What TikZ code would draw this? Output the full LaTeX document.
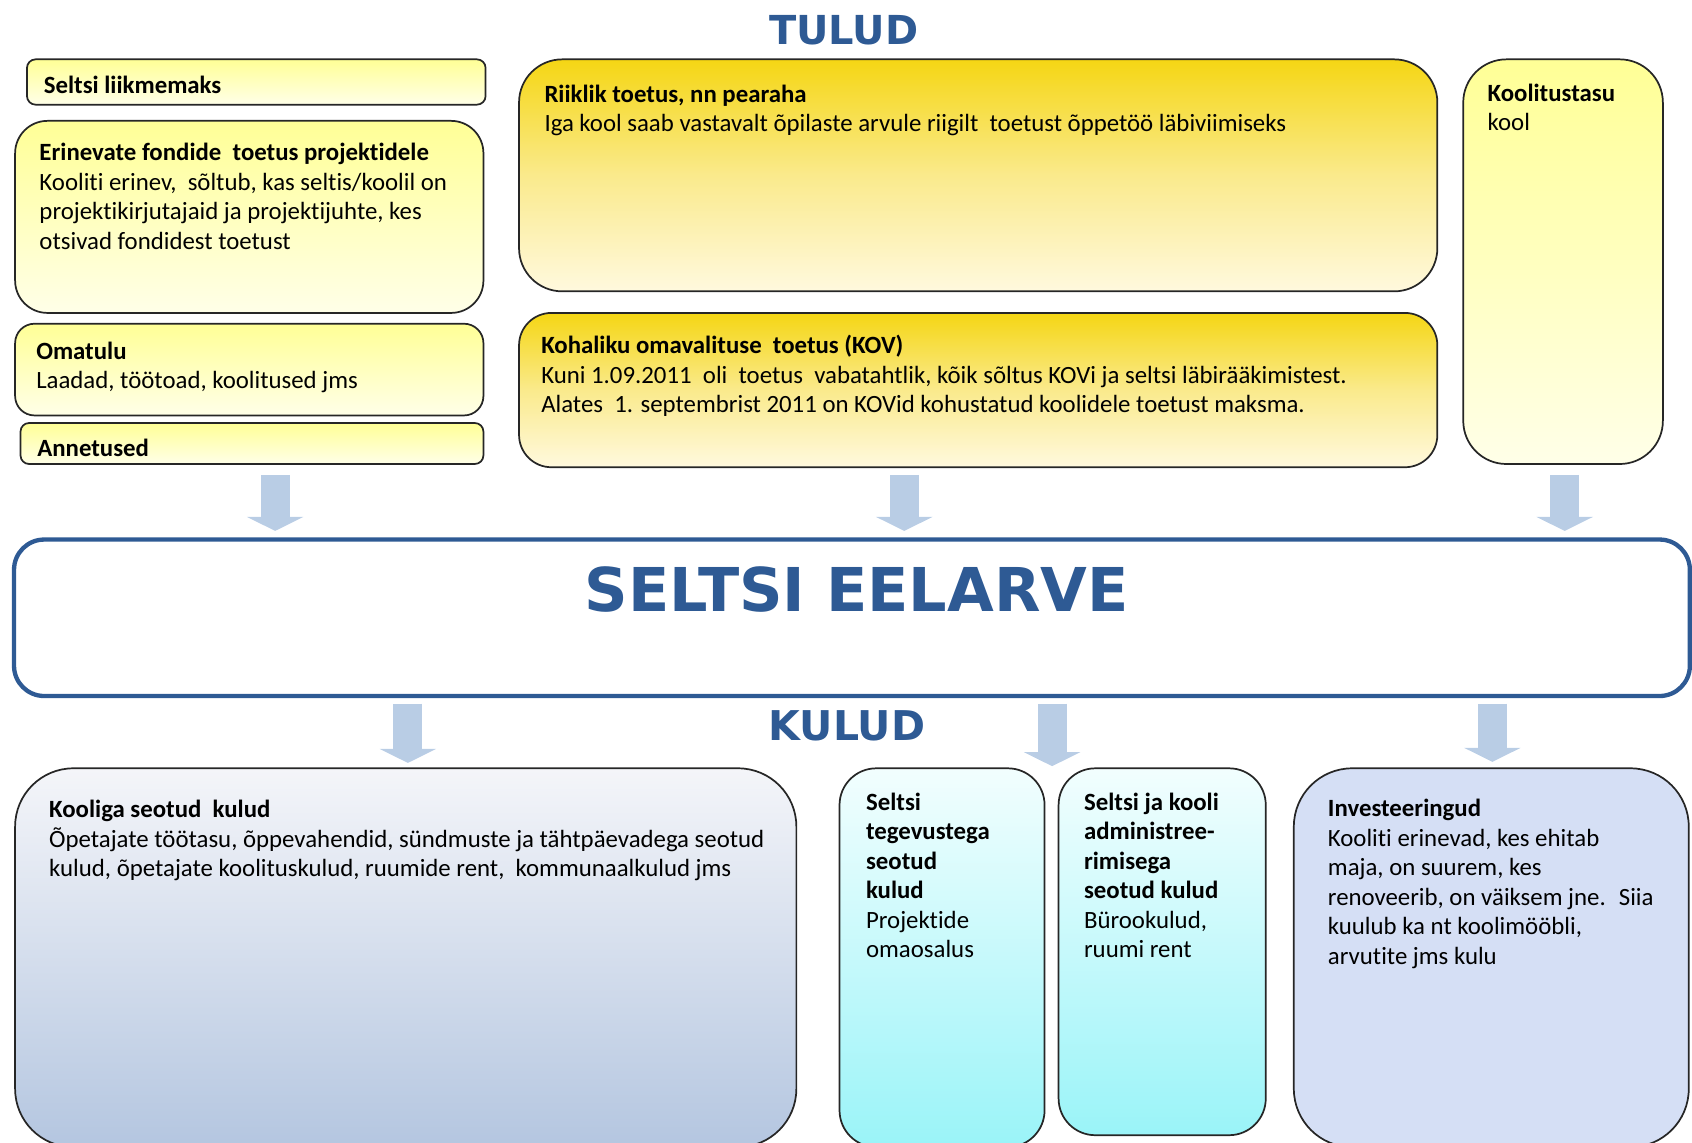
\documentclass[tikz,border=0pt]{standalone}
\usepackage{fontspec}
\setmainfont{Carlito}[Ligatures=NoCommon]
\newfontfamily\headfont{DejaVu Sans}
\usetikzlibrary{fit,arrows.meta}
\definecolor{eelblue}{RGB}{46,90,148}
\definecolor{arrowblue}{RGB}{185,205,229}
\definecolor{ylight}{RGB}{255,255,150}
\definecolor{yfaint}{RGB}{255,255,232}
\definecolor{gold}{RGB}{245,214,20}
\definecolor{goldmid}{RGB}{250,234,140}
\definecolor{goldfaint}{RGB}{255,249,222}
\definecolor{greytop}{RGB}{244,245,249}
\definecolor{greybot}{RGB}{180,198,224}
\definecolor{cyantop}{RGB}{242,254,254}
\definecolor{cyanbot}{RGB}{154,244,248}
\definecolor{lilac}{RGB}{213,223,245}
\begin{document}
\begin{tikzpicture}[x=0.5pt,y=-0.5pt,
  box/.style={draw=black!85,line width=0.8pt,inner sep=0pt},
  ybox/.style={box,top color=ylight,bottom color=yfaint},
  gbox/.style={box,top color=gold,bottom color=goldfaint,middle color=goldmid},
  txt/.style={anchor=north west,inner sep=0pt,align=left,font=\fontsize{11.5}{13.7}\selectfont},
  head/.style={text=eelblue,inner sep=0pt,font=\headfont\bfseries\fontsize{#1}{#1}\selectfont},
  barrow/.style={draw=arrowblue,line width=13.5pt,-{Triangle[width=26pt,length=6.5pt]}}]
 \useasboundingbox (0,0) rectangle (1568,1059);
 \clip (0,0) rectangle (1568,1059);

 % tulud
 \node (tulud) at (782,28) [head=18.5] {TULUD};
 \node (lm) [ybox,rounded corners=4pt,fit={(25,55) (450,97)}] {};
 \node (fond) [ybox,rounded corners=15pt,fit={(14,112) (448,290)}] {};
 \node (oma) [ybox,rounded corners=9pt,fit={(14,300) (448,385)}] {};
 \node (ann) [ybox,rounded corners=4pt,fit={(19,392) (448,430)}] {};
 \node (riik) [gbox,rounded corners=20pt,fit={(481,55) (1332,270)}] {};
 \node (kov) [gbox,rounded corners=15pt,fit={(481,290) (1332,433)}] {};
 \node (tasu) [ybox,rounded corners=20pt,fit={(1356,55) (1541,430)}] {};

 \node (lmt) at ([shift={(16,16)}]lm.north west) [txt] {\textbf{Seltsi liikmemaks}};
 \node (fondt) at ([shift={(23,21)}]fond.north west) [txt] {\textbf{Erinevate fondide~ toetus projektidele}\\
   Kooliti erinev,~ sõltub, kas seltis/koolil on\\ projektikirjutajaid ja projektijuhte, kes\\ otsivad fondidest toetust};
 \node (omat) at ([shift={(20,17)}]oma.north west) [txt] {\textbf{Omatulu}\\ Laadad, töötoad, koolitused jms};
 \node (annt) at ([shift={(16,15)}]ann.north west) [txt] {\textbf{Annetused}};
 \node (riikt) at ([shift={(24,24)}]riik.north west) [txt] {\textbf{Riiklik toetus, nn pearaha}\\
   Iga kool saab vastavalt õpilaste arvule riigilt~ toetust õppetöö läbiviimiseks};
 \node (kovt) at ([shift={(21,21)}]kov.north west) [txt] {\textbf{Kohaliku omavalituse~ toetus (KOV)}\\
   Kuni 1.09.2011~ oli~ toetus~ vabatahtlik, kõik sõltus KOVi ja seltsi läbirääkimistest.\\
   Alates~ 1. septembrist 2011 on KOVid kohustatud koolidele toetust maksma.};
 \node (tasut) at ([shift={(23,23)}]tasu.north west) [txt] {\textbf{Koolitustasu}\\ kool};

 % eelarve
 \node (eel) [draw=eelblue,line width=2pt,inner sep=0pt,rounded corners=14pt,fit={(13,500) (1566,645)}] {};
 \node (eelt) at (794,546) [head=28] {SELTSI EELARVE};
 \coordinate (a1) at (255,440); \coordinate (a1e) at (255,492);
 \coordinate (a2) at (838,440); \coordinate (a2e) at (838,492);
 \coordinate (a3) at (1450,440); \coordinate (a3e) at (1450,492);
 \draw[barrow] (a1) -- (a1e);
 \draw[barrow] (a2) -- (a2e);
 \draw[barrow] (a3) -- (a3e);

 % kulud
 \node (kulud) at (785,673) [head=19] {KULUD};
 \coordinate (b1) at (378,652); \coordinate (b1e) at (378,707);
 \coordinate (b2) at (975,652); \coordinate (b2e) at (975,710);
 \coordinate (b3) at (1383,652); \coordinate (b3e) at (1383,706);
 \draw[barrow] (b1) -- (b1e);
 \draw[barrow] (b2) -- (b2e);
 \draw[barrow] (b3) -- (b3e);

 \node (kool) [box,rounded corners=27pt,top color=greytop,bottom color=greybot,fit={(14,712) (738,1063)}] {};
 \node (selts) [box,rounded corners=17pt,top color=cyantop,bottom color=cyanbot,fit={(778,712) (968,1063)}] {};
 \node (adm) [box,rounded corners=17pt,top color=cyantop,bottom color=cyanbot,fit={(981,712) (1173,1052)}] {};
 \node (inv) [box,rounded corners=27pt,fill=lilac,fit={(1199,712) (1565,1063)}] {};

 \node (koolt) at ([shift={(32,30)}]kool.north west) [txt] {\textbf{Kooliga seotud~ kulud}\\
   Õpetajate töötasu, õppevahendid, sündmuste ja tähtpäevadega seotud\\
   kulud, õpetajate koolituskulud, ruumide rent,~ kommunaalkulud jms};
 \node (seltst) at ([shift={(25,23)}]selts.north west) [txt] {\textbf{Seltsi}\\ \textbf{tegevustega}\\ \textbf{seotud}\\ \textbf{kulud}\\ Projektide\\ omaosalus};
 \node (admt) at ([shift={(24,23)}]adm.north west) [txt] {\textbf{Seltsi ja kooli}\\ \textbf{administree-}\\ \textbf{rimisega}\\ \textbf{seotud kulud}\\ Bürookulud,\\ ruumi rent};
 \node (invt) at ([shift={(32,29)}]inv.north west) [txt] {\textbf{Investeeringud}\\ Kooliti erinevad, kes ehitab\\ maja, on suurem, kes\\
   renoveerib, on väiksem jne.~ Siia\\ kuulub ka nt koolimööbli,\\ arvutite jms kulu};
\end{tikzpicture}
\end{document}
